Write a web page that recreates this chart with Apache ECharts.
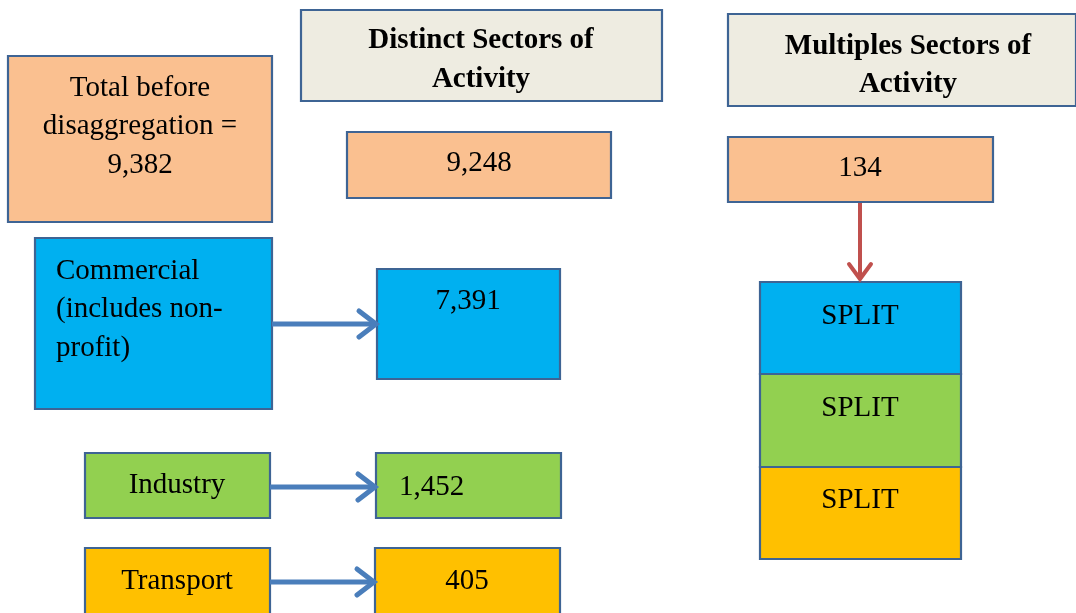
<!DOCTYPE html>
<html><head><meta charset="utf-8">
<script src="https://cdn.jsdelivr.net/npm/echarts@6/dist/echarts.min.js"></script>
<style>html,body{margin:0;padding:0;background:#fff}#c{width:1076px;height:613px}</style>
</head><body><div id="c"></div>
<script>
// ---- data ----
const totalBefore = 9382;
const distinctTotal = 9248;
const multipleTotal = 134;
const headers = [['Distinct Sectors of', 'Activity'], ['Multiples Sectors of', 'Activity']];
const sectors = [['Commercial', '(includes non-', 'profit)'], ['Industry'], ['Transport']];
const distinctValues = [7391, 1452, 405];
const splitLabels = ['SPLIT', 'SPLIT', 'SPLIT'];

function fmt(n) { return String(n).replace(/\B(?=(\d{3})+(?!\d))/g, ','); }

// ---- styles ----
const C = { peach: '#FAC090', blue: '#00B0F0', green: '#92D050', orange: '#FFC000', head: '#EEECE1', edge: '#3E6494', arrow: '#4A7EBB', red: '#C0504D' };
const sectorColors = [C.blue, C.green, C.orange];

// ---- layout (diagram coordinate space) ----
const boxes = [
  { r: [8, 56, 272, 222], fill: C.peach, lines: ['Total before', 'disaggregation =', fmt(totalBefore)], tx: 140, ty: 88, lh: 38.5 },
  { r: [301, 10, 662, 101], fill: C.head, lines: headers[0], tx: 481, ty: 41, lh: 39, bold: true },
  { r: [728, 14, 1076, 106], fill: C.head, lines: headers[1], tx: 908, ty: 47, lh: 38, bold: true },
  { r: [347, 132, 611, 198], fill: C.peach, lines: [fmt(distinctTotal)], tx: 479, ty: 163 },
  { r: [728, 137, 993, 202], fill: C.peach, lines: [fmt(multipleTotal)], tx: 860, ty: 168 },
  { r: [35, 238, 272, 409], fill: sectorColors[0], lines: sectors[0], tx: 56, ty: 271, lh: 38.5, align: 'left' },
  { r: [377, 269, 560, 379], fill: sectorColors[0], lines: [fmt(distinctValues[0])], tx: 468, ty: 301 },
  { r: [85, 453, 270, 518], fill: sectorColors[1], lines: sectors[1], tx: 177, ty: 485 },
  { r: [376, 453, 561, 518], fill: sectorColors[1], lines: [fmt(distinctValues[1])], tx: 399, ty: 487, align: 'left' },
  { r: [85, 548, 270, 630], fill: sectorColors[2], lines: sectors[2], tx: 177, ty: 581 },
  { r: [375, 548, 560, 630], fill: sectorColors[2], lines: [fmt(distinctValues[2])], tx: 467, ty: 581 },
  { r: [760, 282, 961, 374], fill: sectorColors[0], lines: [splitLabels[0]], tx: 860, ty: 316 },
  { r: [760, 374, 961, 467], fill: sectorColors[1], lines: [splitLabels[1]], tx: 860, ty: 408 },
  { r: [760, 467, 961, 559], fill: sectorColors[2], lines: [splitLabels[2]], tx: 860, ty: 500 }
];
const arrows = [
  { p: [272, 324, 376, 324], color: C.arrow, w: 5, back: 17, half: 13 },
  { p: [270, 487, 375, 487], color: C.arrow, w: 5, back: 17, half: 13 },
  { p: [270, 582, 374, 582], color: C.arrow, w: 5, back: 17, half: 13 },
  { p: [860, 203, 860, 279], color: C.red, w: 4, back: 15, half: 11 }
];

const chart = echarts.init(document.getElementById('c'), null, { renderer: 'canvas' });

function renderBox(params, api) {
  const b = boxes[params.dataIndex];
  const p0 = api.coord([b.r[0], b.r[1]]);
  const p1 = api.coord([b.r[2], b.r[3]]);
  const children = [{
    type: 'rect',
    shape: { x: p0[0], y: p0[1], width: p1[0] - p0[0], height: p1[1] - p0[1] },
    style: { fill: b.fill, stroke: C.edge, lineWidth: 2.2 }
  }];
  b.lines.forEach((t, i) => {
    const pt = api.coord([b.tx, b.ty + i * (b.lh || 0)]);
    children.push({
      type: 'text',
      style: {
        text: t, x: pt[0], y: pt[1],
        align: b.align || 'center', verticalAlign: 'middle',
        font: (b.bold ? 'bold 29px' : '29px') + ' "Liberation Serif", "Times New Roman", serif',
        fill: '#000'
      }
    });
  });
  return { type: 'group', children };
}

function renderArrow(params, api) {
  const a = arrows[params.dataIndex];
  const s = api.coord([a.p[0], a.p[1]]);
  const e = api.coord([a.p[2], a.p[3]]);
  const dx = e[0] - s[0], dy = e[1] - s[1];
  const L = Math.sqrt(dx * dx + dy * dy);
  const ux = dx / L, uy = dy / L;
  const back = a.back, half = a.half;
  const b1 = [e[0] - ux * back - uy * half, e[1] - uy * back + ux * half];
  const b2 = [e[0] - ux * back + uy * half, e[1] - uy * back - ux * half];
  const st = { stroke: a.color, lineWidth: a.w, lineCap: 'round', lineJoin: 'miter', fill: null };
  return {
    type: 'group',
    children: [
      { type: 'line', shape: { x1: s[0], y1: s[1], x2: e[0] - ux * 2, y2: e[1] - uy * 2 }, style: Object.assign({}, st, { lineCap: 'butt' }) },
      { type: 'polyline', shape: { points: [b1, e, b2] }, style: st }
    ]
  };
}

chart.setOption({
  backgroundColor: '#ffffff',
  animation: false,
  grid: { left: 0, right: 0, top: 0, bottom: 0 },
  xAxis: { type: 'value', min: 0, max: 1076, show: false },
  yAxis: { type: 'value', min: 0, max: 613, inverse: true, show: false },
  series: [
    { type: 'custom', name: 'boxes', clip: false, renderItem: renderBox, data: boxes.map((b, i) => i) },
    { type: 'custom', name: 'arrows', clip: false, renderItem: renderArrow, data: arrows.map((a, i) => i) }
  ]
});
</script>
</body></html>
